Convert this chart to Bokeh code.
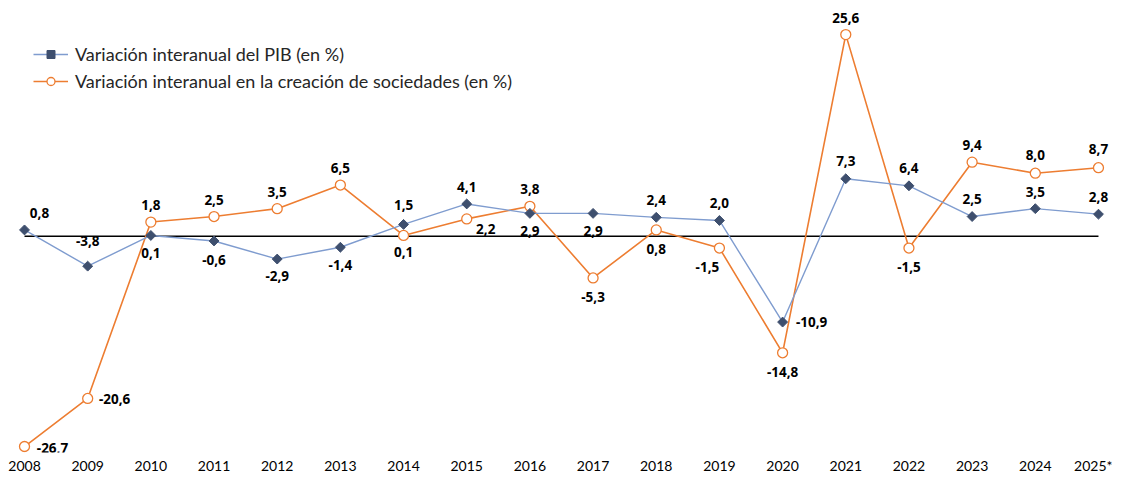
import math
from bokeh.plotting import figure
from bokeh.models import (ColumnDataSource, LabelSet, Legend, LegendItem, Range1d,
                          FixedTicker)
from bokeh.core.properties import value
from bokeh.embed import file_html
from bokeh.resources import INLINE

# ---------------- data ----------------
years = ["2008", "2009", "2010", "2011", "2012", "2013", "2014", "2015", "2016",
         "2017", "2018", "2019", "2020", "2021", "2022", "2023", "2024", "2025*"]
pib = [0.8, -3.8, 0.1, -0.6, -2.9, -1.4, 1.5, 4.1, 2.9,
       2.9, 2.4, 2.0, -10.9, 7.3, 6.4, 2.5, 3.5, 2.8]
sociedades = [-26.7, -20.6, 1.8, 2.5, 3.5, 6.5, 0.1, 2.2, 3.8,
              -5.3, 0.8, -1.5, -14.8, 25.6, -1.5, 9.4, 8.0, 8.7]

pib_name = "Variación interanual del PIB (en %)"
soc_name = "Variación interanual en la creación de sociedades (en %)"

# label placement (pixel offsets of each data label from its point)
pib_dx = [15, 0, 0, 0, 0, 0, 0, 0, 0, 0, 0, 0, 29, 0, 0, 0, 0, 0]
pib_dy = [17, 25, -18, -19, -17, -18, 19, 17, -18, -18, 17, 17, 0, 18, 18, 18, 17, 17]
soc_dx = [28, 27, 0, 0, 0, 0, 0, 19, 0, 0, 0, -12, 0, 0, 0, 0, 0, 0]
soc_dy = [-1, -1, 17, 17, 17, 17, -17, -10, 17, -19, -19, -19, -19, 17, -19, 17, 18, 19]

FONT = "Lato"
LABEL_FONT = "Noto Sans"
BLUE_LINE = "#7F9CCF"
BLUE_MARK = "#3E4F6E"
ORANGE = "#ED7D31"

idx = list(range(len(years)))
fmt = lambda v: f"{v:.1f}".replace(".", ",")

src_pib = ColumnDataSource(dict(x=idx, y=pib, t=[fmt(v) for v in pib], dx=pib_dx, dy=pib_dy))
src_soc = ColumnDataSource(dict(x=idx, y=sociedades, t=[fmt(v) for v in sociedades],
                                dx=soc_dx, dy=soc_dy))

p = figure(width=1112, height=476, output_backend="svg", toolbar_location=None,
           x_range=Range1d(-0.380, 17.222), y_range=Range1d(-27.46, 29.93),
           min_border_left=0, min_border_right=0, min_border_top=0, min_border_bottom=24)
p.outline_line_color = None
p.xgrid.visible = False
p.ygrid.visible = False
p.yaxis.visible = False
p.background_fill_color = "white"
p.border_fill_color = "white"

ax = p.xaxis[0]
ax.ticker = FixedTicker(ticks=idx)
ax.major_label_overrides = {i: y for i, y in zip(idx, years)}
ax.axis_line_color = None
ax.major_tick_line_color = None
ax.minor_tick_line_color = None
ax.major_tick_out = 0
ax.major_tick_in = 0
ax.major_label_standoff = 4
ax.major_label_text_font = FONT
ax.major_label_text_font_size = "14px"
ax.major_label_text_color = "#000000"

# zero line across the categories
p.line(x=[idx[0], idx[-1]], y=[0, 0], line_color="black", line_width=1.3)

l_soc = p.line("x", "y", source=src_soc, line_color=ORANGE, line_width=1.6)
m_soc = p.scatter("x", "y", source=src_soc, marker="circle", size=10,
                  fill_color="white", line_color=ORANGE, line_width=1.3)
l_pib = p.line("x", "y", source=src_pib, line_color=BLUE_LINE, line_width=1.4)
m_pib = p.scatter("x", "y", source=src_pib, marker="square", size=7, angle=math.pi / 4,
                  fill_color=BLUE_MARK, line_color=BLUE_MARK)

for src in (src_pib, src_soc):
    p.add_layout(LabelSet(x="x", y="y", text="t", source=src, x_offset="dx", y_offset="dy",
                          text_align="center", text_baseline="middle",
                          text_font=value(LABEL_FONT), text_font_size="13.5px",
                          text_font_style="bold", text_color="#000000"))

legend = Legend(items=[LegendItem(label=pib_name, renderers=[l_pib, m_pib]),
                       LegendItem(label=soc_name, renderers=[l_soc, m_soc])],
                location=(33, 360), padding=0, margin=0, spacing=5,
                glyph_width=35, glyph_height=20, label_standoff=7,
                label_text_font=FONT, label_text_font_size="18px",
                label_text_color="#262626", background_fill_alpha=0,
                border_line_color=None)
p.add_layout(legend)

open("out.html", "w").write(file_html(p, INLINE))
